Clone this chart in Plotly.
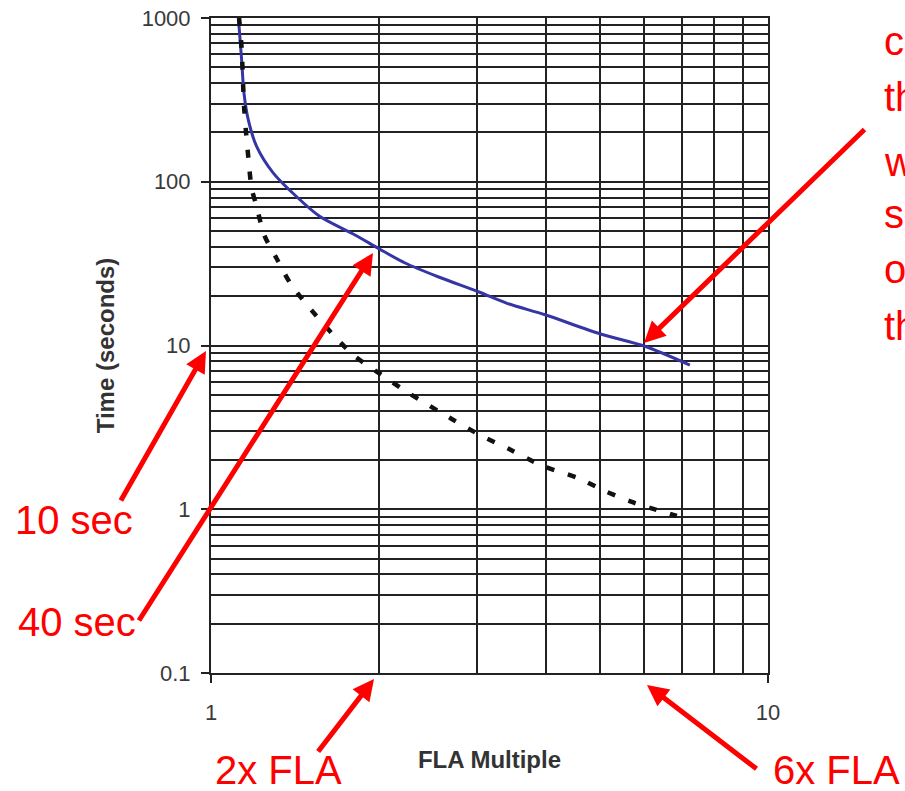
import plotly.graph_objects as go

# ---- data ----
blue_x = [1.120, 1.135, 1.146, 1.167, 1.208, 1.294, 1.425, 1.569, 1.814, 1.997,
          2.23, 2.556, 3.02, 3.40, 3.98, 4.99, 6.01, 7.24]
blue_y = [1000, 554, 348, 238, 164, 113, 81, 61.3, 47.3, 39.2,
          31.9, 26.3, 21.3, 18.1, 15.4, 11.8, 9.9, 7.6]

dash_x = [1.123, 1.135, 1.146, 1.156, 1.168, 1.183, 1.208, 1.246, 1.311, 1.392, 1.516, 1.647,
          1.801, 2.012, 2.267, 2.705, 3.04, 3.43, 3.94, 4.56, 5.10, 5.73, 6.14, 6.86]
dash_y = [1000, 653, 294, 199, 136, 91.2, 70.4, 47.3, 34.1, 23.6, 16.4, 11.9,
          8.75, 6.70, 5.11, 3.56, 2.84, 2.33, 1.84, 1.55, 1.29, 1.10, 1.02, 0.91]

x_major = [1, 10]
x_minor = [2, 3, 4, 5, 6, 7, 8, 9]
y_major = [0.1, 1, 10, 100, 1000]
y_major_text = ["0.1", "1", "10", "100", "1000"]
y_minor = [m * d for d in [0.1, 1, 10, 100] for m in range(2, 10)]

x_title = "FLA Multiple"
y_title = "Time (seconds)"

side_lines = ["The blue", "curve shows", "the relay", "will trip in 10",
              "seconds when", "operating at 6x", "the FLA"]

GRID = "#222222"
RED = "#ff0000"
FONT = "Liberation Sans, Arial, sans-serif"

fig = go.Figure()
fig.add_trace(go.Scatter(x=blue_x, y=blue_y, mode="lines", line_shape="spline",
                         line=dict(color="#3535a5", width=3, smoothing=0.8),
                         showlegend=False, hoverinfo="skip"))
fig.add_trace(go.Scatter(x=dash_x, y=dash_y, mode="lines", line_shape="spline",
                         line=dict(color="#111111", width=4.5, dash="8px,14px", smoothing=0.8),
                         showlegend=False, hoverinfo="skip"))

axis_common = dict(type="log", showgrid=True, gridcolor=GRID, gridwidth=2,
                   ticks="outside", ticklen=8, tickwidth=2, tickcolor=GRID,
                   showline=True, linecolor=GRID, linewidth=2, mirror=True,
                   zeroline=False, automargin=False,
                   tickfont=dict(family=FONT, size=22, color="#3a3a3a"))

fig.update_xaxes(range=[0, 1], tickvals=x_major, ticktext=[str(v) for v in x_major],
                 minor=dict(tickvals=x_minor, showgrid=True, gridcolor=GRID, gridwidth=2, ticks=""),
                 ticklabelstandoff=11,
                 title=dict(text="<b>" + x_title + "</b>", standoff=27,
                            font=dict(family=FONT, size=24, color="#333333")),
                 **axis_common)
fig.update_yaxes(range=[-1, 3], tickvals=y_major, ticktext=y_major_text,
                 minor=dict(tickvals=y_minor, showgrid=True, gridcolor=GRID, gridwidth=2, ticks=""),
                 ticklabelstandoff=6,
                 title=dict(text="<b>" + y_title + "</b>", standoff=20,
                            font=dict(family=FONT, size=24, color="#333333")),
                 **axis_common)

def px_to_dom(px, py):
    return (px - 211) / 557.0, (673 - py) / 655.0

annotations = []
# arrows: (tail pixel, head pixel)
arrows = [((866, 128), (644, 343)),
          ((120, 502), (206, 351)),
          ((138, 622), (373, 253)),
          ((317, 753), (374, 679)),
          ((758, 770), (647, 685))]
for (tx, ty), (hx, hy) in arrows:
    ax_, ay_ = px_to_dom(tx, ty)
    x_, y_ = px_to_dom(hx, hy)
    annotations.append(dict(x=x_, y=y_, ax=ax_, ay=ay_, xref="x domain", yref="y domain",
                            axref="x domain", ayref="y domain", text="", showarrow=True,
                            arrowhead=2, arrowsize=0.85, arrowwidth=5, arrowcolor=RED,
                            standoff=0, startstandoff=0))

labels = [("10 sec", 74, 520), ("40 sec", 77, 622), ("2x FLA", 278, 770), ("6x FLA", 836, 770)]
for t, cx, cy in labels:
    x_, y_ = px_to_dom(cx, cy)
    annotations.append(dict(x=x_, y=y_, xref="x domain", yref="y domain", text=t,
                            showarrow=False, xanchor="center", yanchor="middle",
                            font=dict(family=FONT, size=40, color=RED)))

side_centers = [-16, 41, 97, 162, 214, 269, 326]
for t, cy in zip(side_lines, side_centers):
    x_, y_ = px_to_dom(882, cy)
    annotations.append(dict(x=x_, y=y_, xref="x domain", yref="y domain", text=t,
                            showarrow=False, xanchor="left", yanchor="middle",
                            font=dict(family=FONT, size=40, color=RED)))

fig.update_layout(width=905, height=791, autosize=False,
                  margin=dict(l=211, r=137, t=18, b=118, pad=0, autoexpand=False),
                  paper_bgcolor="white", plot_bgcolor="white",
                  annotations=annotations)

fig.write_html("out.html", config={"displayModeBar": False},
               post_script="document.body.style.margin='0px';document.body.style.overflow='hidden';")
